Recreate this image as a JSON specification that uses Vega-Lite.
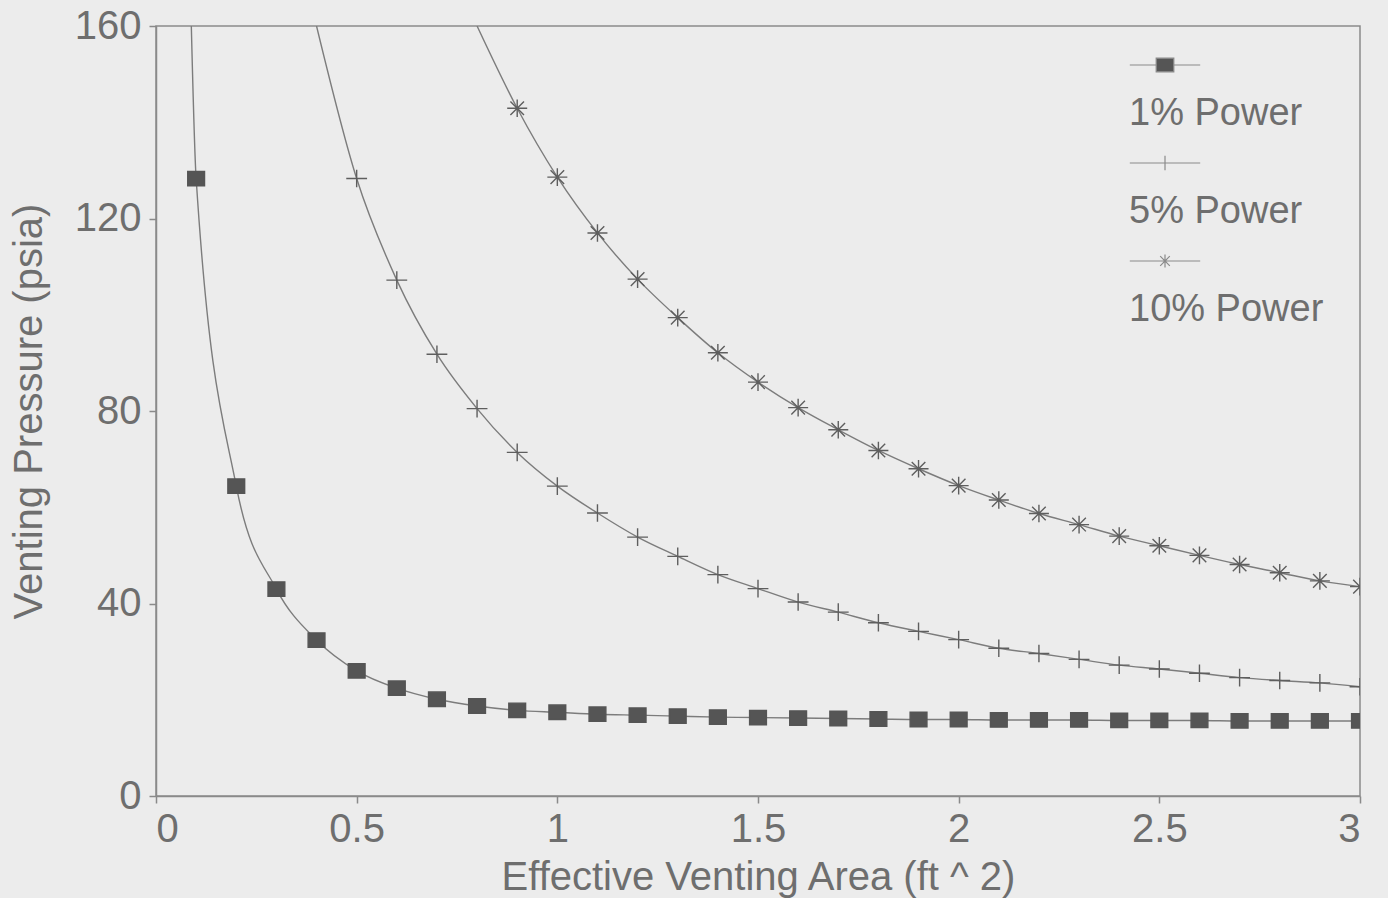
{
  "$schema": "https://vega.github.io/schema/vega-lite/v6.json",
  "width": 1204,
  "height": 770,
  "autosize": {"type": "none"},
  "padding": {"left": 156, "top": 26, "right": 28, "bottom": 102},
  "background": "#ececec",
  "config": {
    "font": "Liberation Sans",
    "view": {"stroke": "#8a8a8a", "strokeWidth": 1.5},
    "style": {"guide-label": {"lineHeight": 30}},
    "axis": {
      "domainColor": "#8a8a8a",
      "tickColor": "#8a8a8a",
      "labelColor": "#6e6e6e",
      "titleColor": "#6e6e6e",
      "labelFontSize": 40,
      "titleFontSize": 40,
      "titleFontWeight": "normal",
      "grid": false,
      "tickSize": 7,
      "domainWidth": 1.5,
      "tickWidth": 1.5
    }
  },
  "datasets": {
    "curves": [
      {"area": 0.088, "pressure": 160, "series": "1% Power"},
      {"area": 0.1, "pressure": 128.3, "series": "1% Power"},
      {"area": 0.2, "pressure": 64.4, "series": "1% Power"},
      {"area": 0.3, "pressure": 43.0, "series": "1% Power"},
      {"area": 0.4, "pressure": 32.4, "series": "1% Power"},
      {"area": 0.5, "pressure": 26.0, "series": "1% Power"},
      {"area": 0.6, "pressure": 22.4, "series": "1% Power"},
      {"area": 0.7, "pressure": 20.1, "series": "1% Power"},
      {"area": 0.8, "pressure": 18.7, "series": "1% Power"},
      {"area": 0.9, "pressure": 17.8, "series": "1% Power"},
      {"area": 1.0, "pressure": 17.4, "series": "1% Power"},
      {"area": 1.1, "pressure": 17.0, "series": "1% Power"},
      {"area": 1.2, "pressure": 16.8, "series": "1% Power"},
      {"area": 1.3, "pressure": 16.6, "series": "1% Power"},
      {"area": 1.4, "pressure": 16.4, "series": "1% Power"},
      {"area": 1.5, "pressure": 16.3, "series": "1% Power"},
      {"area": 1.6, "pressure": 16.2, "series": "1% Power"},
      {"area": 1.7, "pressure": 16.1, "series": "1% Power"},
      {"area": 1.8, "pressure": 16.0, "series": "1% Power"},
      {"area": 1.9, "pressure": 15.9, "series": "1% Power"},
      {"area": 2.0, "pressure": 15.9, "series": "1% Power"},
      {"area": 2.1, "pressure": 15.8, "series": "1% Power"},
      {"area": 2.2, "pressure": 15.8, "series": "1% Power"},
      {"area": 2.3, "pressure": 15.8, "series": "1% Power"},
      {"area": 2.4, "pressure": 15.7, "series": "1% Power"},
      {"area": 2.5, "pressure": 15.7, "series": "1% Power"},
      {"area": 2.6, "pressure": 15.7, "series": "1% Power"},
      {"area": 2.7, "pressure": 15.6, "series": "1% Power"},
      {"area": 2.8, "pressure": 15.6, "series": "1% Power"},
      {"area": 2.9, "pressure": 15.6, "series": "1% Power"},
      {"area": 3.0, "pressure": 15.6, "series": "1% Power"},
      {"area": 0.4, "pressure": 160, "series": "5% Power"},
      {"area": 0.5, "pressure": 128.3, "series": "5% Power"},
      {"area": 0.6, "pressure": 107.2, "series": "5% Power"},
      {"area": 0.7, "pressure": 91.8, "series": "5% Power"},
      {"area": 0.8, "pressure": 80.5, "series": "5% Power"},
      {"area": 0.9, "pressure": 71.4, "series": "5% Power"},
      {"area": 1.0, "pressure": 64.4, "series": "5% Power"},
      {"area": 1.1, "pressure": 58.8, "series": "5% Power"},
      {"area": 1.2, "pressure": 53.8, "series": "5% Power"},
      {"area": 1.3, "pressure": 49.8, "series": "5% Power"},
      {"area": 1.4, "pressure": 46.0, "series": "5% Power"},
      {"area": 1.5, "pressure": 43.1, "series": "5% Power"},
      {"area": 1.6, "pressure": 40.3, "series": "5% Power"},
      {"area": 1.7, "pressure": 38.2, "series": "5% Power"},
      {"area": 1.8, "pressure": 36.0, "series": "5% Power"},
      {"area": 1.9, "pressure": 34.2, "series": "5% Power"},
      {"area": 2.0, "pressure": 32.5, "series": "5% Power"},
      {"area": 2.1, "pressure": 30.7, "series": "5% Power"},
      {"area": 2.2, "pressure": 29.6, "series": "5% Power"},
      {"area": 2.3, "pressure": 28.4, "series": "5% Power"},
      {"area": 2.4, "pressure": 27.2, "series": "5% Power"},
      {"area": 2.5, "pressure": 26.4, "series": "5% Power"},
      {"area": 2.6, "pressure": 25.5, "series": "5% Power"},
      {"area": 2.7, "pressure": 24.6, "series": "5% Power"},
      {"area": 2.8, "pressure": 24.0, "series": "5% Power"},
      {"area": 2.9, "pressure": 23.5, "series": "5% Power"},
      {"area": 3.0, "pressure": 22.7, "series": "5% Power"},
      {"area": 0.8, "pressure": 160, "series": "10% Power"},
      {"area": 0.9, "pressure": 142.9, "series": "10% Power"},
      {"area": 1.0, "pressure": 128.6, "series": "10% Power"},
      {"area": 1.1, "pressure": 117.0, "series": "10% Power"},
      {"area": 1.2, "pressure": 107.4, "series": "10% Power"},
      {"area": 1.3, "pressure": 99.4, "series": "10% Power"},
      {"area": 1.4, "pressure": 92.1, "series": "10% Power"},
      {"area": 1.5, "pressure": 86.0, "series": "10% Power"},
      {"area": 1.6, "pressure": 80.7, "series": "10% Power"},
      {"area": 1.7, "pressure": 76.1, "series": "10% Power"},
      {"area": 1.8, "pressure": 71.8, "series": "10% Power"},
      {"area": 1.9, "pressure": 68.0, "series": "10% Power"},
      {"area": 2.0, "pressure": 64.5, "series": "10% Power"},
      {"area": 2.1, "pressure": 61.5, "series": "10% Power"},
      {"area": 2.2, "pressure": 58.7, "series": "10% Power"},
      {"area": 2.3, "pressure": 56.4, "series": "10% Power"},
      {"area": 2.4, "pressure": 54.0, "series": "10% Power"},
      {"area": 2.5, "pressure": 52.0, "series": "10% Power"},
      {"area": 2.6, "pressure": 50.0, "series": "10% Power"},
      {"area": 2.7, "pressure": 48.1, "series": "10% Power"},
      {"area": 2.8, "pressure": 46.4, "series": "10% Power"},
      {"area": 2.9, "pressure": 44.7, "series": "10% Power"},
      {"area": 3.0, "pressure": 43.5, "series": "10% Power"}
    ]
  },
  "data": {"name": "curves"},
  "encoding": {
    "x": {
      "field": "area",
      "type": "quantitative",
      "scale": {"domain": [0, 3], "nice": false, "zero": false},
      "axis": {
        "values": [0, 0.5, 1, 1.5, 2, 2.5, 3],
        "format": "~g",
        "labelPadding": 6,
        "title": "Effective Venting Area (ft ^ 2)",
        "titlePadding": 8
      }
    },
    "y": {
      "field": "pressure",
      "type": "quantitative",
      "scale": {"domain": [0, 160], "nice": false},
      "axis": {
        "values": [0, 40, 80, 120, 160],
        "labelPadding": 8,
        "title": "Venting Pressure (psia)",
        "titlePadding": 25
      }
    }
  },
  "layer": [
    {
      "mark": {"type": "line", "clip": true, "color": "#7c7c7c", "strokeWidth": 1.4, "interpolate": "monotone"},
      "encoding": {"detail": {"field": "series", "type": "nominal"}}
    },
    {
      "transform": [{"filter": "datum.pressure < 159.9"}],
      "mark": {"type": "point", "size": 256, "strokeWidth": 1.4, "opacity": 1, "filled": true, "clip": true},
      "encoding": {
        "shape": {
          "condition": [
            {"test": "datum.series === '1% Power'", "value": "M-1.05,-0.9H1.05V0.9H-1.05Z"},
            {"test": "datum.series === '5% Power'", "value": "M-1.3,0H1.3M0,-1.1V1.1"}
          ],
          "value": "M-1.25,0H1.25M0,-1.1V1.1M-0.85,-0.85L0.85,0.85M-0.85,0.85L0.85,-0.85"
        },
        "fill": {
          "condition": {"test": "datum.series === '1% Power'", "value": "#555555"},
          "value": "transparent"
        },
        "stroke": {
          "condition": {"test": "datum.series === '1% Power'", "value": "#555555"},
          "value": "#5e5e5e"
        }
      }
    },
    {
      "mark": {"type": "point", "filled": false, "color": "#8a8a8a", "fill": "#555555", "stroke": "#8a8a8a", "strokeWidth": 1.2, "opacity": 0, "size": 256},
      "encoding": {
        "shape": {
          "field": "series",
          "type": "nominal",
          "scale": {
            "domain": ["1% Power", "5% Power", "10% Power"],
            "range": [
              "M-4.4,0H-1.1M1.1,0H4.4M-1.1,-0.85H1.1V0.85H-1.1Z",
              "M-4.4,0H4.4M0,-0.9V0.9",
              "M-4.4,0H4.4M0,-0.8V0.8M-0.6,-0.6L0.6,0.6M-0.6,0.6L0.6,-0.6"
            ]
          },
          "legend": {
            "orient": "none",
            "legendX": 990,
            "legendY": 20,
            "title": null,
            "padding": 0,
            "labelFontSize": 38,
            "labelColor": "#6e6e6e",
            "labelFont": "Liberation Sans",
            "labelLimit": 0,
            "labelBaseline": "top",
            "labelExpr": "['', datum.label]",
            "symbolSize": 256,
            "symbolOpacity": 1,
            "symbolStrokeWidth": 1.2,
            "rowPadding": 11,
            "labelOffset": -55
          }
        }
      }
    }
  ]
}
